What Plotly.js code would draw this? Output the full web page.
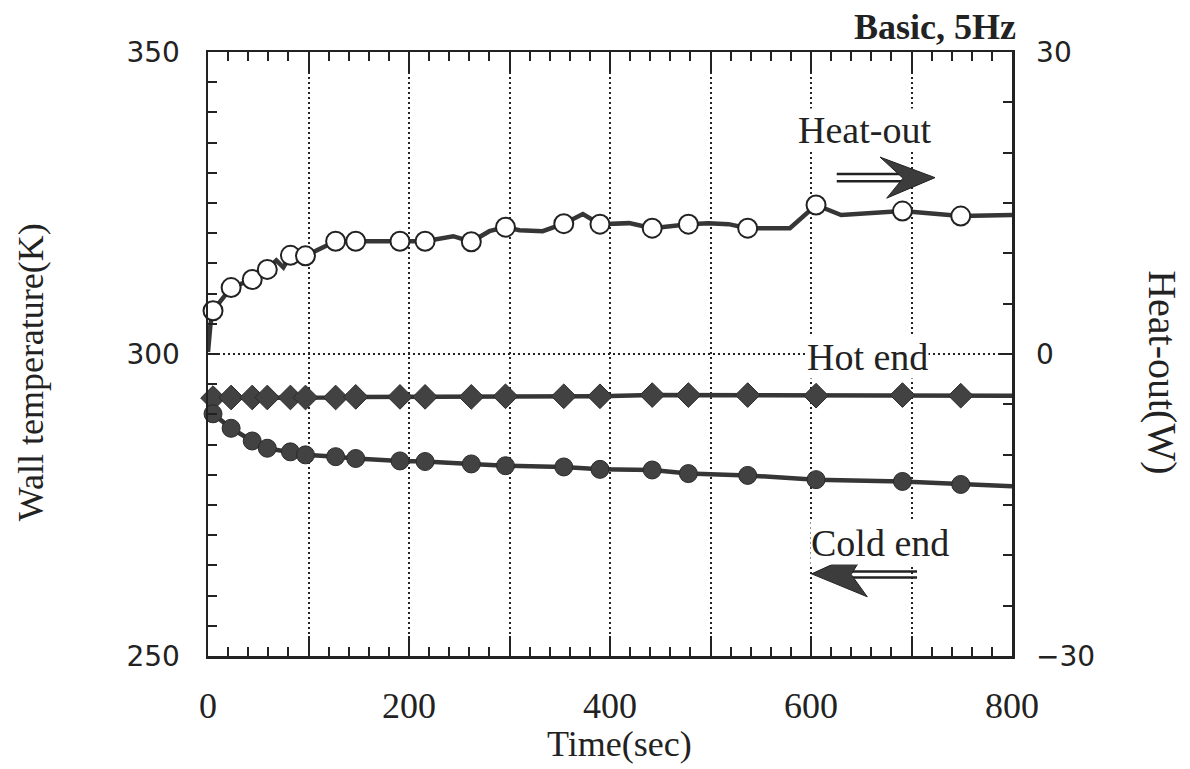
<!DOCTYPE html>
<html>
<head>
<meta charset="utf-8">
<script src="https://cdn.plot.ly/plotly-3.0.1.min.js"></script>
<style>
  html, body { margin: 0; padding: 0; background: #ffffff; }
  #chart { width: 1190px; height: 769px; }
</style>
</head>
<body>
<div id="chart"></div>
<script>
// Sampling times (s) shared by the three measured series
const sampleTime = [5, 23, 44, 59, 82, 97, 127, 147, 191, 216, 262, 296, 354, 390, 442, 478, 537, 605, 691, 749];

// Heat-out (W), right axis
const heatOut = [4.3, 6.6, 7.4, 8.4, 9.8, 9.75, 11.2, 11.2, 11.2, 11.2, 11.15, 12.6, 12.95, 12.9, 12.5, 12.9, 12.5, 14.8, 14.2, 13.7];
// Hot end wall temperature (K)
const hotEnd = [292.7, 292.8, 292.8, 292.8, 292.8, 292.8, 292.8, 292.9, 292.9, 292.9, 292.9, 293.0, 293.0, 293.0, 293.2, 293.2, 293.2, 293.1, 293.2, 293.1];
// Cold end wall temperature (K)
const coldEnd = [290.1, 287.7, 285.6, 284.4, 283.8, 283.3, 283.0, 282.7, 282.3, 282.2, 281.8, 281.5, 281.3, 280.9, 280.8, 280.2, 279.9, 279.2, 278.9, 278.4];

// Continuous recordings drawn as lines (denser than the marked samples)
const heatLineTime = [0, 2.5, 5, 23, 44, 59, 68, 75, 82, 97, 127, 147, 191, 216, 244, 262, 280, 296, 310, 333, 354, 373, 390, 419, 442, 478, 498, 518, 537, 579, 605, 630, 691, 749, 800];
const heatLineW    = [0.2, 3.0, 4.3, 6.6, 7.4, 8.4, 9.3, 8.6, 9.8, 9.75, 11.2, 11.2, 11.2, 11.2, 11.7, 11.15, 12.2, 12.6, 12.3, 12.2, 12.95, 13.9, 12.9, 13.0, 12.5, 12.9, 13.0, 12.9, 12.5, 12.5, 14.8, 13.8, 14.2, 13.7, 13.8];
const tempLineTime = [0, 5, 23, 44, 59, 82, 97, 127, 147, 191, 216, 262, 296, 354, 390, 442, 478, 537, 605, 691, 749, 800];
const hotLineK     = [292.7, 292.7, 292.8, 292.8, 292.8, 292.8, 292.8, 292.8, 292.9, 292.9, 292.9, 292.9, 293.0, 293.0, 293.0, 293.2, 293.2, 293.2, 293.1, 293.2, 293.1, 293.1];
const coldLineK    = [292.7, 290.1, 287.7, 285.6, 284.4, 283.8, 283.3, 283.0, 282.7, 282.3, 282.2, 281.8, 281.5, 281.3, 280.9, 280.8, 280.2, 279.9, 279.2, 278.9, 278.4, 278.1];

// Axis tick labels
const xTickVals = [0, 100, 200, 300, 400, 500, 600, 700, 800];
const xTickText = ['0', '', '200', '', '400', '', '600', '', '800'];
const yTickVals = [250, 300, 350];
const y2TickVals = [-30, 0, 30];

const INK = '#222222';
const LINE = '#363636';
const FILL = '#424242';
const SERIF = 'Liberation Serif, Times New Roman, serif';
const SANS = 'DejaVu Sans, sans-serif';

const traces = [
  { x: heatLineTime, y: heatLineW, yaxis: 'y2', mode: 'lines',
    line: { color: LINE, width: 4.5 }, hoverinfo: 'skip' },
  { x: tempLineTime, y: hotLineK, mode: 'lines',
    line: { color: LINE, width: 4.5 }, hoverinfo: 'skip' },
  { x: tempLineTime, y: coldLineK, mode: 'lines',
    line: { color: LINE, width: 4.5 }, hoverinfo: 'skip' },
  { x: sampleTime, y: hotEnd, mode: 'markers', name: 'Hot end',
    marker: { symbol: 'diamond', size: 19, color: FILL, line: { color: '#2a2a2a', width: 1 } } },
  { x: sampleTime, y: coldEnd, mode: 'markers', name: 'Cold end',
    marker: { symbol: 'circle', size: 18, color: FILL, line: { color: '#2a2a2a', width: 1 } } },
  { x: sampleTime, y: heatOut, yaxis: 'y2', mode: 'markers', name: 'Heat-out',
    marker: { symbol: 'circle', size: 19, color: '#ffffff', line: { color: INK, width: 2 } } }
];
traces.forEach(t => { t.cliponaxis = false; });

// Double-shafted direction arrows pointing at the axis each curve belongs to
function shaft(x0, x1, y) {
  return { type: 'line', xref: 'x', yref: 'y', x0: x0, x1: x1, y0: y, y1: y,
           line: { color: INK, width: 2.5 }, layer: 'above' };
}
function head(pts) {
  const d = 'M ' + pts.map(p => p[0] + ',' + p[1]).join(' L ') + ' Z';
  return { type: 'path', xref: 'x', yref: 'y', path: d,
           fillcolor: '#3c3c3c', line: { color: INK, width: 1 }, layer: 'above' };
}
const shapes = [
  shaft(625.6, 692, 329.8), shaft(625.6, 692, 328.6),
  head([[723.4, 329.2], [668.7, 332.6], [691.5, 329.1], [675.3, 325.8]]),
  shaft(640, 705.5, 264.0), shaft(640, 705.5, 263.0),
  head([[600.6, 263.6], [656, 267.8], [640, 263.5], [656, 259.8]])
];

function label(text, x, y, size, extra) {
  return Object.assign({ text: text, xref: 'paper', yref: 'paper', x: x, y: y,
    xanchor: 'center', yanchor: 'middle', showarrow: false,
    font: { family: SERIF, size: size, color: INK } }, extra || {});
}
const annotations = [
  label('Wall temperature(K)', -0.2201, 0.470, 36, { textangle: -90 }),
  label('Heat-out(W)', 1.1878, 0.470, 40, { textangle: 90 }),
  label('Time(sec)', 0.5124, -0.145, 36),
  label('<b>Basic, 5Hz</b>', 1.0075, 1.0414, 36, { xanchor: 'right' }),
  label('Heat-out', 0.817, 0.871, 38, { bgcolor: '#ffffff', borderpad: 0 }),
  label('Hot end', 0.8197, 0.495, 38, { bgcolor: '#ffffff', borderpad: 0 }),
  label('Cold end', 0.8358, 0.187, 38, { bgcolor: '#ffffff', borderpad: 0 })
];

const gridDash = '2px,3px';

const layout = {
  width: 1190, height: 769,
  margin: { l: 208, r: 178, t: 52, b: 113, pad: 0 },
  paper_bgcolor: '#ffffff', plot_bgcolor: '#ffffff',
  showlegend: false,
  font: { family: SERIF, color: INK },
  xaxis: {
    range: [0, 800], tickmode: 'array', tickvals: xTickVals, ticktext: xTickText,
    ticks: 'inside', ticklen: 20, tickwidth: 2, tickcolor: INK,
    showline: true, linewidth: 2.5, linecolor: INK, mirror: 'ticks',
    showgrid: true, gridcolor: INK, gridwidth: 2, griddash: gridDash,
    zeroline: false, ticklabelstandoff: 16,
    tickfont: { family: SERIF, size: 36, color: INK },
    minor: { dtick: 20, ticks: 'inside', ticklen: 9, tickwidth: 2, tickcolor: INK, showgrid: false }
  },
  yaxis: {
    range: [250, 350], tickmode: 'array', tickvals: yTickVals,
    ticks: 'inside', ticklen: 12, tickwidth: 2, tickcolor: INK,
    showline: true, linewidth: 2.5, linecolor: INK, mirror: false,
    showgrid: true, gridcolor: INK, gridwidth: 2, griddash: gridDash,
    zeroline: false, ticklabelstandoff: 20,
    tickfont: { family: SANS, size: 28, color: INK },
    minor: { dtick: 5, ticks: 'inside', ticklen: 9, tickwidth: 2, tickcolor: INK, showgrid: false }
  },
  yaxis2: {
    range: [-30, 30], overlaying: 'y', side: 'right', tickmode: 'array', tickvals: y2TickVals,
    ticks: 'inside', ticklen: 12, tickwidth: 2, tickcolor: INK,
    showline: true, linewidth: 2.5, linecolor: INK,
    showgrid: false, zeroline: false, ticklabelstandoff: 16,
    tickfont: { family: SANS, size: 28, color: INK },
    minor: { dtick: 5, ticks: 'inside', ticklen: 9, tickwidth: 2, tickcolor: INK, showgrid: false }
  },
  shapes: shapes,
  annotations: annotations
};

Plotly.newPlot('chart', traces, layout, { displayModeBar: false, staticPlot: true });
</script>
</body>
</html>
